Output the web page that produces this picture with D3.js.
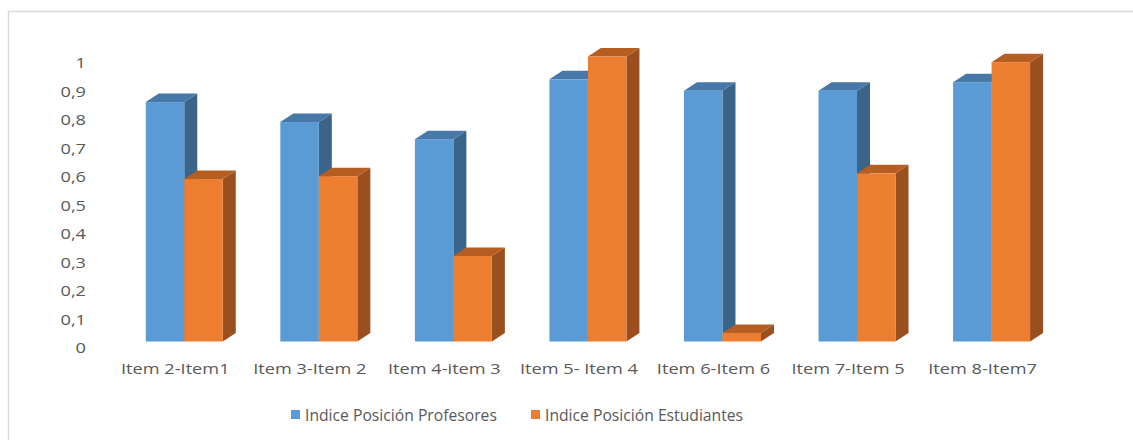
<!DOCTYPE html>
<html>
<head>
<meta charset="utf-8">
<script src="https://cdn.jsdelivr.net/npm/d3@7"></script>
<style>
    html, body { margin: 0; padding: 0; background: #fff; }
    svg { display: block; font-family: "Open Sans", sans-serif; }
</style>
</head>
<body>
<div id="chart"></div>
<script>
const categories = ['Item 2-Item1', 'Item 3-Item 2', 'Item 4-item 3', 'Item 5- Item 4', 'Item 6-Item 6', 'Item 7-Item 5', 'Item 8-Item7'];
const profesores = [0.84, 0.77, 0.71, 0.92, 0.88, 0.88, 0.91];
const estudiantes = [0.57, 0.58, 0.30, 1.00, 0.03, 0.59, 0.98];
const seriesNames = ['Indice Posición Profesores', 'Indice Posición Estudiantes'];
const yTicks = [0, 0.1, 0.2, 0.3, 0.4, 0.5, 0.6, 0.7, 0.8, 0.9, 1];

const width = 1133,
    height = 440,
    textColor = '#595959',
    stretch = 1.3,
    depth = { x: 13, y: 8.5 },
    barLift = 6.5,
    barWidth = 38.5,
    barShift = -29.5;

const palette = [
    { front: '#5b9bd5', side: '#3a6589', top: '#4778a8' },
    { front: '#ed7d31', side: '#9a4f1e', top: '#b65e22' }
];

const locale = d3.formatLocale({ decimal: ',', thousands: '.', grouping: [3], currency: ['', '€'] });
const fmt = v => v === 0 ? '0' : (v === 1 ? '1' : locale.format('.1f')(v));

let svg, x, y;

function stretchedText(g, tx, ty, str, anchor) {
    return g.append('text')
        .attr('transform', `translate(${tx},${ty}) scale(${stretch},1)`)
        .attr('text-anchor', anchor)
        .attr('dominant-baseline', 'central')
        .attr('fill', textColor)
        .style('font-size', '14px')
        .text(str);
}

function buildFrame() {
    svg = d3.select('#chart').append('svg')
        .attr('width', width)
        .attr('height', height);

    svg.append('rect')
        .attr('x', 8.5)
        .attr('y', 11.5)
        .attr('width', width + 20)
        .attr('height', height + 20)
        .attr('fill', '#fff')
        .attr('stroke', '#d9d9d9')
        .attr('stroke-width', 1.5);
}

function buildScales() {
    x = d3.scaleBand().domain(categories).range([108, 108 + 7 * 134.55]).padding(0);
    y = d3.scaleLinear().domain([0, 1]).range([348, 63]);
}

function buildAxes() {
    const yAxis = svg.append('g').attr('class', 'y-axis');
    yTicks.forEach(t => stretchedText(yAxis, 86, y(t), fmt(t), 'end'));

    const xAxis = svg.append('g').attr('class', 'x-axis');
    categories.forEach(c => stretchedText(xAxis, x(c) + x.bandwidth() / 2, 369, c, 'middle'));
}

function drawBox(g, x0, value, colors) {
    const x1 = x0 + barWidth,
        yb = y(0) - barLift,
        yt = y(value) - barLift;

    g.append('path')
        .attr('d', `M${x1},${yb}L${x1 + depth.x},${yb - depth.y}L${x1 + depth.x},${yt - depth.y}L${x1},${yt}Z`)
        .attr('fill', colors.side);

    g.append('path')
        .attr('d', `M${x0},${yt}L${x0 + depth.x},${yt - depth.y}L${x1 + depth.x},${yt - depth.y}L${x1},${yt}Z`)
        .attr('fill', colors.top);

    g.append('rect')
        .attr('x', x0)
        .attr('y', yt)
        .attr('width', barWidth)
        .attr('height', yb - yt)
        .attr('fill', colors.front);
}

function buildBars() {
    const bars = svg.append('g').attr('class', 'bars');

    categories.forEach((c, i) => {
        const g = bars.append('g'),
            start = x(c) + x.bandwidth() / 2 + barShift;

        drawBox(g, start, profesores[i], palette[0]);
        drawBox(g, start + barWidth, estudiantes[i], palette[1]);
    });
}

function buildLegend() {
    const legend = svg.append('g').attr('class', 'legend');
    const items = [
        { name: seriesNames[0], x: 291, color: palette[0].front },
        { name: seriesNames[1], x: 531, color: palette[1].front }
    ];

    items.forEach(d => {
        legend.append('rect')
            .attr('x', d.x)
            .attr('y', 410)
            .attr('width', 9)
            .attr('height', 9)
            .attr('fill', d.color);

        legend.append('text')
            .attr('x', d.x + 14)
            .attr('y', 415)
            .attr('dominant-baseline', 'central')
            .attr('fill', textColor)
            .style('font-size', '15.7px')
            .text(d.name);
    });
}

buildFrame();
buildScales();
buildAxes();
buildBars();
buildLegend();
</script>
</body>
</html>
